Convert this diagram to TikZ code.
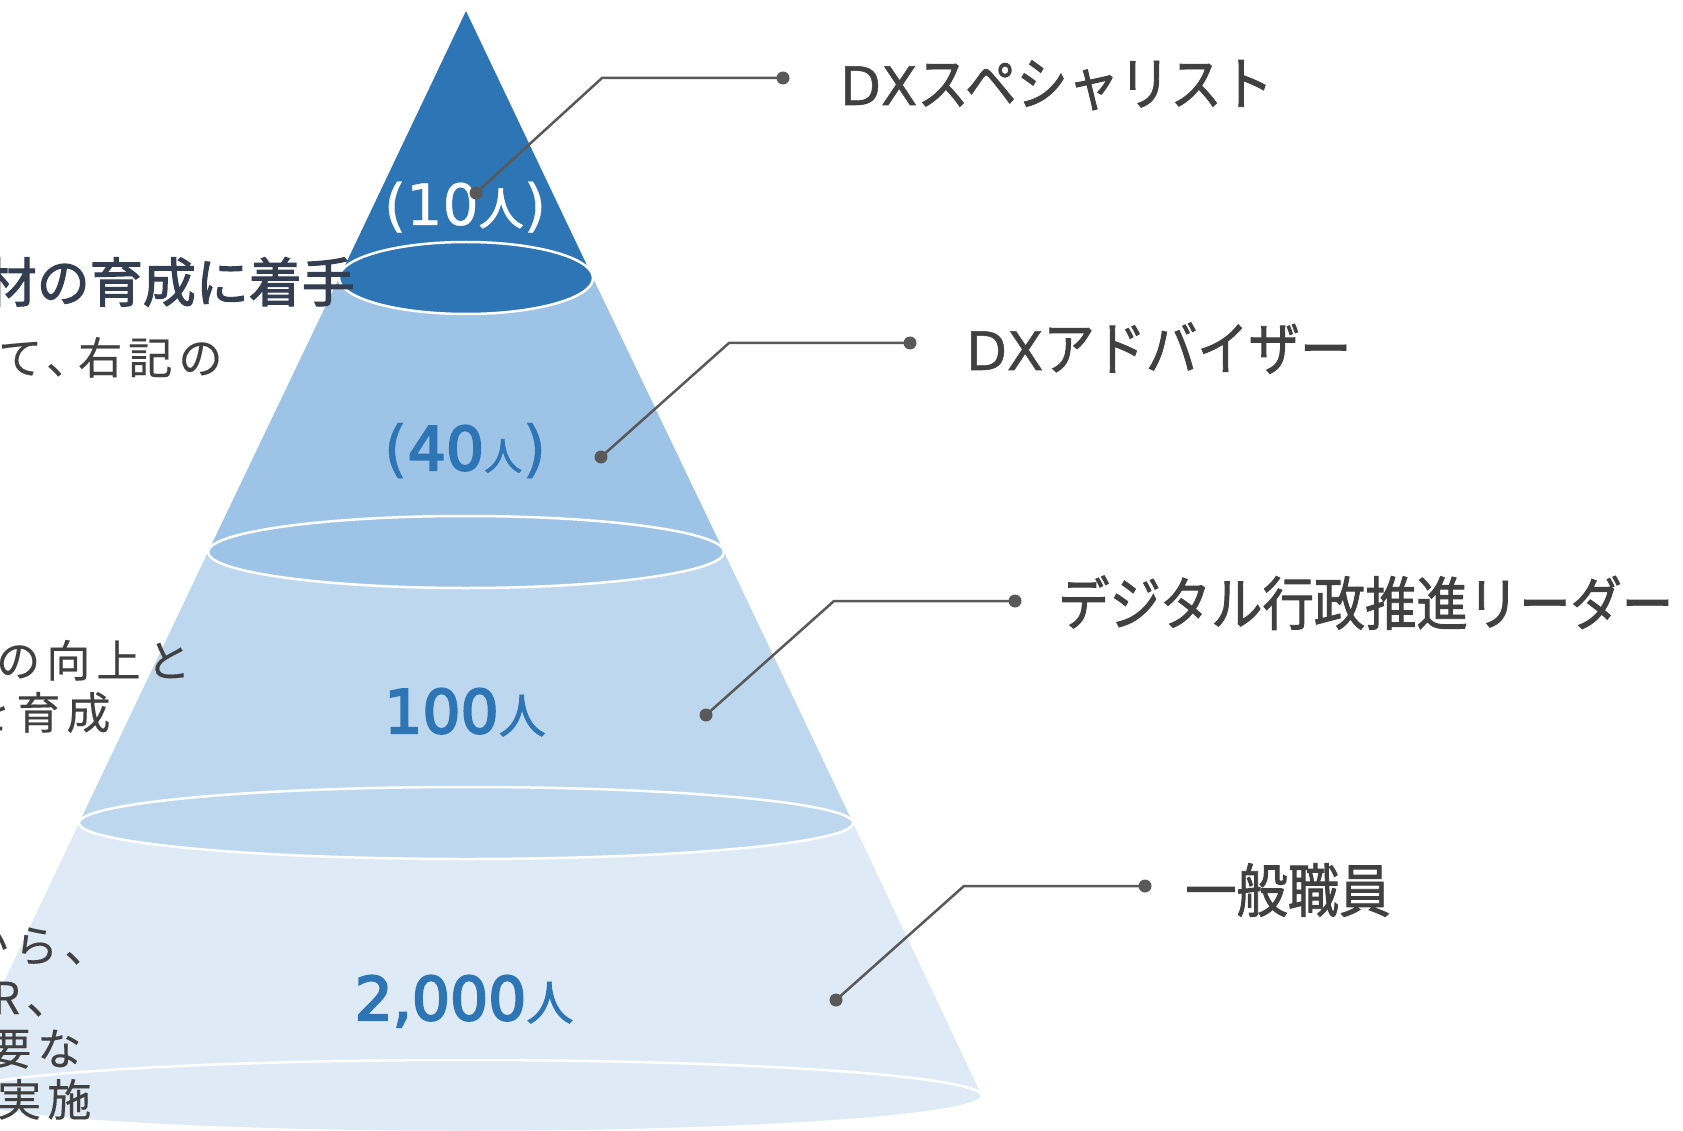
\documentclass[tikz,border=0pt]{standalone}
\usepackage{fontspec}
\newfontfamily\jpr{Noto Sans CJK JP}
\newfontfamily\jpm[FakeBold=1.8]{Noto Sans CJK JP}
\newfontfamily\jph[FakeBold=2.2]{Noto Sans CJK JP}
\newfontfamily\jpl[FakeStretch=0.885,FakeBold=1.5]{Noto Sans CJK JP}
\newfontfamily\latl[FakeBold=1.0]{DejaVu Sans}
\newfontfamily\digm[FakeBold=3.5]{DejaVu Sans}
\newfontfamily\digw[FakeBold=0.6]{DejaVu Sans}
\newfontfamily\jpw[LetterSpace=14,FakeBold=0.3]{Noto Sans CJK JP}
\definecolor{cA}{HTML}{2E75B6}
\definecolor{cB}{HTML}{9DC3E6}
\definecolor{cC}{HTML}{BDD7EE}
\definecolor{cD}{HTML}{DEEBF7}
\definecolor{txtc}{HTML}{404040}
\definecolor{headc}{HTML}{333F50}
\definecolor{leadc}{HTML}{595959}
\newcommand\dxfont{\latl\fontsize{53}{60}\selectfont}
\begin{document}
\begin{tikzpicture}[x=1pt,y=-1pt,
  capline/.style={draw=white, line width=2.5pt},
  leadline/.style={draw=leadc, line width=2.5pt},
  dotn/.style={circle, fill=leadc, inner sep=0pt, minimum size=13pt},
  lbl/.style={anchor=base west, inner sep=0pt, text=txtc, font=\jpl\fontsize{58}{60}\selectfont},
  bodytxt/.style={anchor=base west, inner sep=0pt, text=txtc, font=\jpw\fontsize{44}{48}\selectfont},
  headtxt/.style={anchor=base east, inner sep=0pt, text=headc, font=\jph\fontsize{53}{60}\selectfont},
  numtxt/.style={anchor=base, inner sep=0pt, text=cA},
]
\useasboundingbox (0,0) rectangle (1683,1131);
\clip (0,0) rectangle (1683,1131);

% ---- pyramid, bottom to top
\fill[cD] (79,823) -- (853,823) -- (982,1096) -- (-50,1096) -- cycle;
\draw[capline, fill=cD] (466,1096) ellipse [x radius=516, y radius=36];
\fill[cC] (208,552) -- (724,552) -- (853,823) -- (79,823) -- cycle;
\draw[capline, fill=cC] (466,823) ellipse [x radius=387, y radius=36];
\fill[cB] (339,278) -- (593,278) -- (724,552) -- (208,552) -- cycle;
\draw[capline, fill=cB] (466,552) ellipse [x radius=258, y radius=36];
\fill[cA] (466,11) -- (593,278) -- (339,278) -- cycle;
\draw[capline, fill=cA] (466,278) ellipse [x radius=127, y radius=36];

% ---- left texts (cut by the page edge)
\node[headtxt] (h1) at (355,302) {材の育成に着手};
\node[bodytxt] (b1) at (-2,374) {て、\kern-12pt 右記の};
\node[bodytxt] (b2) at (-4,677) {の向上と};
\node[bodytxt] (b3) at (-34,729) {を育成};
\node[bodytxt] (b4) at (-36,962) {から、};
\node[bodytxt] (b5) at (-8,1014) {R、};
\node[bodytxt] (b6) at (-13,1065) {要な};
\node[bodytxt] (b7) at (-3,1116) {実施};

% ---- numbers in the pyramid
\node[anchor=base, inner sep=0pt, text=white] (n1) at (465,225)
  {\digw\fontsize{57}{60}\selectfont (10\jpm\fontsize{45}{48}\selectfont 人\digw\fontsize{57}{60}\selectfont )};
\node[numtxt] (n2) at (465,470)
  {\digw\fontsize{62}{64}\selectfont (\digm\fontsize{60}{62}\selectfont 40\jpm\fontsize{38}{44}\selectfont 人\digw\fontsize{62}{64}\selectfont )};
\node[numtxt] (n3) at (465,733)
  {\digm\fontsize{60}{64}\selectfont 100\jpm\fontsize{47}{48}\selectfont 人};
\node[numtxt] (n4) at (464,1020)
  {\digm\fontsize{60}{64}\selectfont 2,000\jpm\fontsize{47}{48}\selectfont 人};

% ---- leaders and labels
\node[dotn] (p1) at (476,193) {};
\node[dotn] (q1) at (783,78) {};
\coordinate (k1) at (602,78);
\draw[leadline] (p1.center) -- (k1) -- (q1.center);
\node[lbl] (l1) at (840,105) {{\dxfont DX}スペシャリスト};

\node[dotn] (p2) at (601,457) {};
\node[dotn] (q2) at (910,343) {};
\coordinate (k2) at (729,343);
\draw[leadline] (p2.center) -- (k2) -- (q2.center);
\node[lbl] (l2) at (966,370) {{\dxfont DX}アドバイザー};

\node[dotn] (p3) at (706,715) {};
\node[dotn] (q3) at (1015,601) {};
\coordinate (k3) at (834,601);
\draw[leadline] (p3.center) -- (k3) -- (q3.center);
\node[lbl] (l3) at (1058,625) {デジタル行政推進リーダー};

\node[dotn] (p4) at (836,1000) {};
\node[dotn] (q4) at (1145,886) {};
\coordinate (k4) at (964,886);
\draw[leadline] (p4.center) -- (k4) -- (q4.center);
\node[lbl] (l4) at (1185,912) {一般職員};
\end{tikzpicture}
\end{document}
